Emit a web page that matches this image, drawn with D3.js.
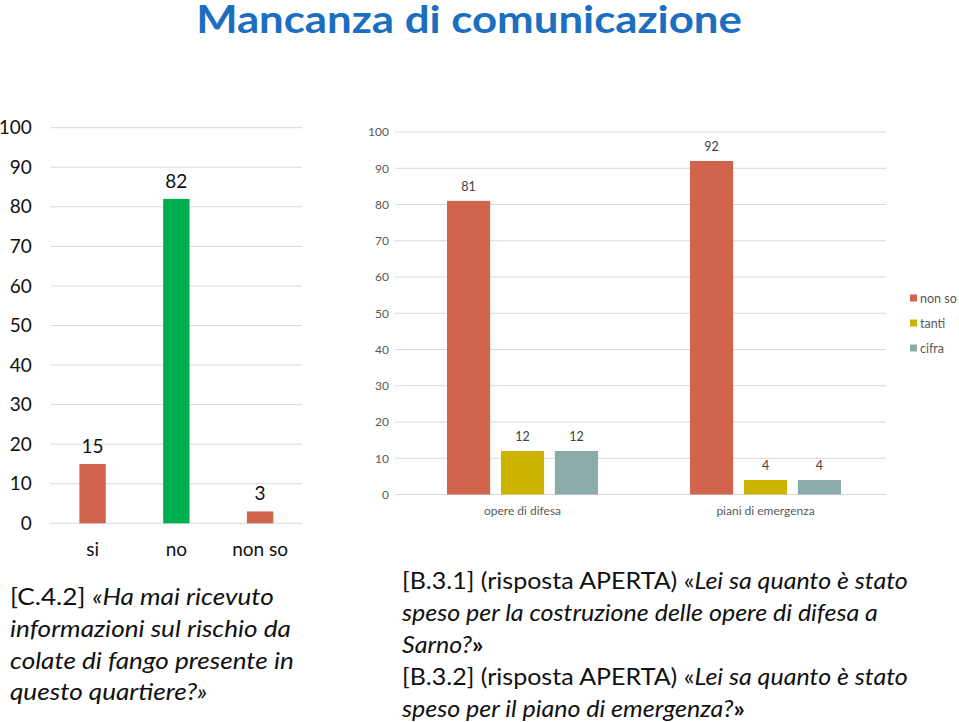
<!DOCTYPE html>
<html><head><meta charset="utf-8">
<script src="https://cdn.jsdelivr.net/npm/d3@7"></script>
<style>
body{margin:0;background:#fff;}
svg{display:block;font-family:Lato,"Open Sans",sans-serif;}
</style></head>
<body>
<svg id="c" width="959" height="722"></svg>
<script>
// ---- data ----
const leftCategories = ["si", "no", "non so"];
const leftValues = [15, 82, 3];
const leftTicks = [0, 10, 20, 30, 40, 50, 60, 70, 80, 90, 100];

const rightCategories = ["opere di difesa", "piani di emergenza"];
const seriesNames = ["non so", "tanti", "cifra"];
const seriesNonSo = [81, 92];
const seriesTanti = [12, 4];
const seriesCifra = [12, 4];
const rightTicks = [0, 10, 20, 30, 40, 50, 60, 70, 80, 90, 100];

const titleText = "Mancanza di comunicazione";

// ---- styles ----
const cRed = "#D1644C", cGreen = "#00B050", cYellow = "#CBB300", cTeal = "#8CACAC";
const leftColors = [cRed, cGreen, cRed];
const seriesColors = [cRed, cYellow, cTeal];

const svg = d3.select("#c");

// title (horizontally scaled to the reference's narrower face)
const title = svg.append("text").attr("x", 0).attr("y", 0)
  .attr("text-anchor", "middle").attr("fill", "#1C6EC0")
  .attr("font-weight", "bold").attr("font-size", 38).text(titleText);
{
  const w = title.node().getComputedTextLength();
  title.attr("transform", `translate(469,33) scale(${546 / w},1)`);
}

// ---- left chart ----
const lx = d3.scaleBand().domain(leftCategories).range([50.7, 302]).paddingInner(0.685).paddingOuter(0.3425);
const ly = d3.scaleLinear().domain([0, 100]).range([523.3, 127.7]);
const lg = svg.append("g");
lg.selectAll("line.grid").data(leftTicks).join("line")
  .attr("x1", 50.7).attr("x2", 302).attr("y1", d => ly(d)).attr("y2", d => ly(d))
  .attr("stroke", "#d9d9d9").attr("stroke-width", 1);
const lyAxis = lg.append("g").attr("transform", "translate(50.7,0)")
  .call(d3.axisLeft(ly).tickValues(leftTicks).tickSize(0).tickPadding(19));
lyAxis.select(".domain").remove();
lyAxis.selectAll("text").attr("font-size", 19).attr("fill", "#111").attr("font-family", "Lato,'Open Sans',sans-serif");
lg.selectAll("rect").data(leftValues).join("rect")
  .attr("x", (d, i) => lx(leftCategories[i])).attr("width", lx.bandwidth())
  .attr("y", d => ly(d)).attr("height", d => ly(0) - ly(d))
  .attr("fill", (d, i) => leftColors[i]);
lg.selectAll("text.val").data(leftValues).join("text").attr("class", "val")
  .attr("x", (d, i) => lx(leftCategories[i]) + lx.bandwidth() / 2)
  .attr("y", d => ly(d) - 11).attr("text-anchor", "middle")
  .attr("font-size", 19).attr("fill", "#111").text(d => d);
const lxAxis = lg.append("g").attr("transform", "translate(0,523.3)")
  .call(d3.axisBottom(lx).tickSize(0).tickPadding(19));
lxAxis.select(".domain").remove();
lxAxis.selectAll("text").attr("font-size", 19).attr("fill", "#111").attr("font-family", "Lato,'Open Sans',sans-serif");

// ---- right chart ----
const rx0 = d3.scaleBand().domain(rightCategories).range([401, 887]);
const rx1 = d3.scaleBand().domain(seriesNames).range([46, 197]).paddingInner(0.2);
const ry = d3.scaleLinear().domain([0, 100]).range([494.5, 132]);
const rg = svg.append("g");
rg.selectAll("line.grid").data(rightTicks).join("line")
  .attr("x1", 395).attr("x2", 886).attr("y1", d => ry(d)).attr("y2", d => ry(d))
  .attr("stroke", "#d9d9d9").attr("stroke-width", 1);
const ryAxis = rg.append("g").attr("transform", "translate(395,0)")
  .call(d3.axisLeft(ry).tickValues(rightTicks).tickSize(0).tickPadding(6));
ryAxis.select(".domain").remove();
ryAxis.selectAll("text").attr("font-size", 12).attr("fill", "#595959").attr("font-family", "Lato,'Open Sans',sans-serif");
const allSeries = [seriesNonSo, seriesTanti, seriesCifra];
const rows = [];
rightCategories.forEach((c, ci) => seriesNames.forEach((s, si) => rows.push({c, s, si, v: allSeries[si][ci]})));
rg.selectAll("rect").data(rows).join("rect")
  .attr("x", d => rx0(d.c) + rx1(d.s)).attr("width", rx1.bandwidth())
  .attr("y", d => ry(d.v)).attr("height", d => ry(0) - ry(d.v))
  .attr("fill", d => seriesColors[d.si]);
rg.selectAll("text.val").data(rows).join("text").attr("class", "val")
  .attr("x", d => rx0(d.c) + rx1(d.s) + rx1.bandwidth() / 2)
  .attr("y", d => ry(d.v) - 10).attr("text-anchor", "middle")
  .attr("font-size", 12.5).attr("fill", "#404040").text(d => d.v);
const rxAxis = rg.append("g").attr("transform", "translate(0,494.5)")
  .call(d3.axisBottom(rx0).tickSize(0).tickPadding(12));
rxAxis.select(".domain").remove();
rxAxis.selectAll("text").attr("font-size", 12).attr("fill", "#595959").attr("font-family", "Lato,'Open Sans',sans-serif");

// legend
const leg = svg.append("g");
seriesNames.forEach((s, i) => {
  const y = 298 + i * 25;
  leg.append("rect").attr("x", 910).attr("y", y - 3.5).attr("width", 7).attr("height", 7).attr("fill", seriesColors[i]);
  leg.append("text").attr("x", 920).attr("y", y + 4.5).attr("font-size", 12.5).attr("fill", "#595959").text(s);
});

// ---- bottom texts: one uniform horizontal scale per block ----
function block(x, lines, refIndex, refWidth) {
  const nodes = lines.map(([y, parts]) => {
    const t = svg.append("text").attr("x", 0).attr("y", 0).attr("font-size", 23.5).attr("fill", "#111");
    parts.forEach(p => {
      const ts = t.append("tspan").text(p[0]);
      if (p[1] === "i") ts.attr("font-style", "italic");
      if (p[1] === "b") ts.attr("font-weight", "bold");
    });
    return [t, y];
  });
  const k = refWidth / nodes[refIndex][0].node().getComputedTextLength();
  nodes.forEach(([t, y]) => t.attr("transform", `translate(${x},${y}) scale(${k},1)`));
}
block(10, [
  [605, [["[C.4.2] ", "n"], ["«Ha mai ricevuto", "i"]]],
  [637, [["informazioni sul rischio da", "i"]]],
  [669, [["colate di fango presente in", "i"]]],
  [700, [["questo quartiere?»", "i"]]]
], 2, 284);

block(402, [
  [589, [["[B.3.1] (risposta APERTA) «", "n"], ["Lei sa quanto è stato", "i"]]],
  [621, [["speso per la costruzione delle opere di difesa a", "i"]]],
  [653, [["Sarno?", "i"], ["»", "b"]]],
  [685, [["[B.3.2] (risposta APERTA) «", "n"], ["Lei sa quanto è stato", "i"]]],
  [717, [["speso per il piano di emergenza?", "i"], ["»", "b"]]]
], 0, 506);
</script>
</body></html>
